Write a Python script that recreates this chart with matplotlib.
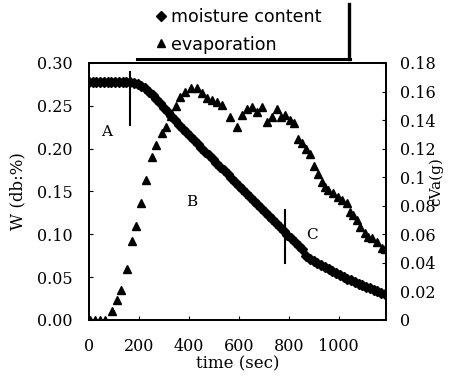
import matplotlib
matplotlib.use("Agg")
import matplotlib.pyplot as plt
from matplotlib.ticker import FuncFormatter, MultipleLocator
from matplotlib.lines import Line2D

# moisture content W (db) every 15 s
time_w = list(range(0, 1186, 15))
moisture = [0.278, 0.278, 0.278, 0.278, 0.278, 0.278, 0.278, 0.278, 0.278, 0.278,
            0.278, 0.2775, 0.2765, 0.275, 0.273, 0.2705, 0.2665, 0.2625, 0.258, 0.253,
            0.248, 0.243, 0.238, 0.233, 0.228, 0.2235, 0.219, 0.2145, 0.210, 0.2055,
            0.201, 0.1966, 0.1922, 0.1878, 0.1834, 0.179, 0.1746, 0.1702, 0.1658, 0.1614,
            0.157, 0.1526, 0.1482, 0.1438, 0.1394, 0.135, 0.1306, 0.1262, 0.1218, 0.1174,
            0.113, 0.1086, 0.1042, 0.0998, 0.0955, 0.091, 0.0868, 0.0828, 0.0745, 0.0715,
            0.0688, 0.0662, 0.0638, 0.0614, 0.059, 0.0567, 0.0545, 0.0523, 0.0502, 0.0482,
            0.0462, 0.0443, 0.0424, 0.0405, 0.0387, 0.0369, 0.0352, 0.0335, 0.0318, 0.0302]

# evaporation cVa (g)
time_e = [5, 25, 45, 65, 92, 112, 128, 152, 172, 188, 208, 228, 252, 268, 292, 308,
          328, 348, 366, 384, 408, 432, 452, 472, 492, 512, 532, 564, 592, 612, 632,
          652, 672, 692, 712, 732, 752, 768, 784, 804, 820, 836, 852, 868, 884, 900,
          916, 932, 944, 956, 976, 996, 1012, 1032, 1044, 1056, 1072, 1084, 1104,
          1116, 1132, 1152, 1172, 1184]
evaporation = [0, 0, 0, 0, 0.006, 0.014, 0.021, 0.0355, 0.055, 0.066, 0.082, 0.098,
               0.114, 0.1225, 0.131, 0.135, 0.143, 0.150, 0.156, 0.160, 0.1625, 0.1625,
               0.159, 0.1555, 0.154, 0.1526, 0.1505, 0.142, 0.135, 0.1435, 0.148,
               0.149, 0.1455, 0.149, 0.139, 0.142, 0.148, 0.142, 0.1435, 0.140, 0.138,
               0.127, 0.124, 0.120, 0.116, 0.108, 0.102, 0.097, 0.093, 0.091, 0.089,
               0.086, 0.084, 0.082, 0.0756, 0.0735, 0.070, 0.065, 0.061, 0.058, 0.0574,
               0.0546, 0.0504, 0.050]
time_e = time_e[:len(evaporation)]

# period boundaries and labels
bound_t = [164, 786]
bound_lo = [0.228, 0.0665]
bound_hi = [0.290, 0.128]
period_names = ["A", "B", "C"]
period_t = [72, 412, 892]
period_w = [0.219, 0.138, 0.099]

serif = "DejaVu Serif"

fig = plt.figure(figsize=(4.51, 3.79), dpi=100)
ax = fig.add_axes([89 / 451, 1 - 320 / 379, 297 / 451, 257 / 379])
ax2 = ax.twinx()

ax.plot(time_w, moisture, linestyle="none", marker="D", markersize=5.6,
        color="black", label="moisture content")
ax2.plot(time_e, evaporation, linestyle="none", marker="^", markersize=6,
         color="black", label="evaporation")

for t, lo, hi in zip(bound_t, bound_lo, bound_hi):
    ax.plot([t, t], [lo, hi], color="black", linewidth=1.5)
for name, t, w in zip(period_names, period_t, period_w):
    ax.text(t, w, name, fontsize=11, family=serif, ha="center", va="center")

ax.set_xlim(0, 1190)
ax.set_ylim(0, 0.30)
ax2.set_ylim(0, 0.18)
ax.yaxis.set_major_locator(MultipleLocator(0.05))
ax2.yaxis.set_major_locator(MultipleLocator(0.02))
ax.set_xticks([0, 200, 400, 600, 800, 1000])
ax.yaxis.set_major_formatter(FuncFormatter(lambda v, p: "%.2f" % v))
ax2.yaxis.set_major_formatter(FuncFormatter(lambda v, p: "%g" % round(v, 2)))

ax.tick_params(axis="both", direction="in", length=3, labelsize=11.5)
ax.tick_params(axis="y", pad=12)
ax.tick_params(axis="x", pad=13)
ax2.tick_params(axis="y", direction="in", length=3, labelsize=11.5, pad=10)
for lab in ax.get_xticklabels() + ax.get_yticklabels() + ax2.get_yticklabels():
    lab.set_family(serif)

for a in (ax, ax2):
    for s in a.spines.values():
        s.set_linewidth(1.3)

ax.set_xlabel("time (sec)", family=serif, fontsize=12, labelpad=0)
ax.xaxis.label.set_va("center")
ax.xaxis.set_label_coords(0.5, -0.172)
ax.set_ylabel("W (db:%)", family=serif, fontsize=12)
ax.yaxis.label.set_va("center")
ax.yaxis.set_label_coords(-0.24, 0.5)
ax2.set_ylabel("cVa(g)", family=serif, fontsize=11, rotation=90)
ax2.yaxis.label.set_va("center")
ax2.yaxis.set_label_coords(1.17, 0.54)

h1, l1 = ax.get_legend_handles_labels()
h2, l2 = ax2.get_legend_handles_labels()
fig.legend(h1 + h2, l1 + l2, loc="upper left", bbox_to_anchor=(143 / 451, 1.01),
           frameon=False, fontsize=12.6, handlelength=0.6, handletextpad=0.3,
           labelspacing=0.52, borderpad=0.2)
fig.add_artist(Line2D([349 / 451, 349 / 451], [1 - 4 / 379, 1 - 58.5 / 379],
                      color="black", linewidth=2.4, transform=fig.transFigure))
fig.add_artist(Line2D([137 / 451, 350 / 451], [1 - 58.5 / 379, 1 - 58.5 / 379],
                      color="black", linewidth=2.2, transform=fig.transFigure))

fig.savefig("out.png", dpi=100)
